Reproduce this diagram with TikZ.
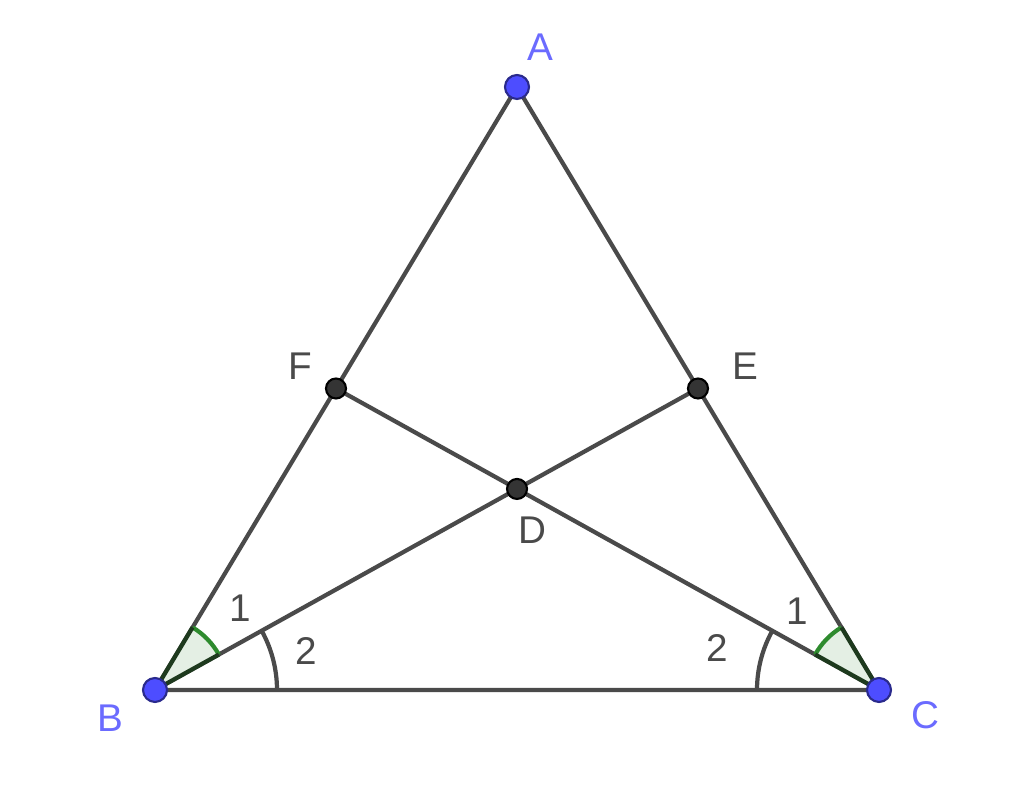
\documentclass[tikz,border=0pt]{standalone}
\usepackage{fontspec}
\setmainfont{Liberation Sans}
\usepackage{tikz}
\usetikzlibrary{positioning}
\usetikzlibrary{calc, angles, quotes}
\definecolor{ptblue}{HTML}{4D4DFF}
\definecolor{lblblue}{HTML}{6B6BFF}
\definecolor{segcol}{HTML}{4A4A4A}
\definecolor{angfill}{HTML}{E4EFE4}
\definecolor{angarc}{HTML}{2E8B2E}
\definecolor{angedge}{HTML}{1E3A1E}
\tikzstyle{seg} = [segcol, line width=1.2pt]
\tikzstyle{freept} = [circle, fill=ptblue, draw=ptblue!55!black, line width=0.6pt, inner sep=0pt, minimum size=2.4mm]
\tikzstyle{fixpt} = [circle, fill=segcol!70!black, draw=black, line width=0.6pt, inner sep=0pt, minimum size=2mm]
\tikzstyle{greenang} = [draw=angarc, fill=angfill, line width=1.2pt, angle radius=0.73cm]
\tikzstyle{blackang} = [draw=segcol, line width=1.2pt, angle radius=1.22cm]

\begin{document}
\begin{tikzpicture}[
    font = \fontsize{11}{13}\selectfont,
    every pic quotes/.style = {text = segcol}
  ]
  \useasboundingbox (0,0) rectangle (10.24,7.92);

  % points
  \coordinate (A) at (5.17,7.05);
  \coordinate (B) at (1.55,1.02);
  \coordinate (C) at (8.79,1.02);
  \coordinate (F) at ($(A)!0.5!(B)$);
  \coordinate (E) at ($(A)!0.5!(C)$);
  \coordinate (D) at (intersection of B--E and C--F);

  % sides and cevians
  \draw[seg] (A) -- (B) -- (C) -- cycle;
  \draw[seg] (B) -- (E);
  \draw[seg] (C) -- (F);

  % angles
  \pic[greenang] {angle = D--B--A};
  \pic[greenang] {angle = A--C--D};
  \draw[angedge, line width=1.2pt] ($(B)!0.73cm!(A)$) -- (B) -- ($(B)!0.73cm!(D)$);
  \draw[angedge, line width=1.2pt] ($(C)!0.73cm!(A)$) -- (C) -- ($(C)!0.73cm!(D)$);
  \pic[blackang, "2", angle eccentricity=1.28] {angle = C--B--D};
  \pic[blackang, "2", angle eccentricity=1.37] {angle = D--C--B};
  \path (B) pic[draw=none, angle radius=0.73cm, "1", angle eccentricity=1.62] {angle = D--B--A};
  \path (C) pic[draw=none, angle radius=0.73cm, "1", angle eccentricity=1.55] {angle = A--C--D};

  \node[freept] (pA) at (A) {};
  \node[freept] (pB) at (B) {};
  \node[freept] (pC) at (C) {};
  \node[fixpt] (pF) at (F) {};
  \node[fixpt] (pE) at (E) {};
  \node[fixpt] (pD) at (D) {};

  % Labels
  \begin{scope}[nodes = {text = lblblue}]
    \node (lA) at (5.40,7.45) {A};
    \node (lB) at (1.10,0.74) {B};
    \node (lC) at (9.25,0.77) {C};
  \end{scope}
  \begin{scope}[nodes = {text = segcol}]
    \node (lF) at (3.00,4.26) {F};
    \node (lE) at (7.45,4.26) {E};
    \node (lD) at (5.32,2.62) {D};
  \end{scope}
\end{tikzpicture}
\end{document}
